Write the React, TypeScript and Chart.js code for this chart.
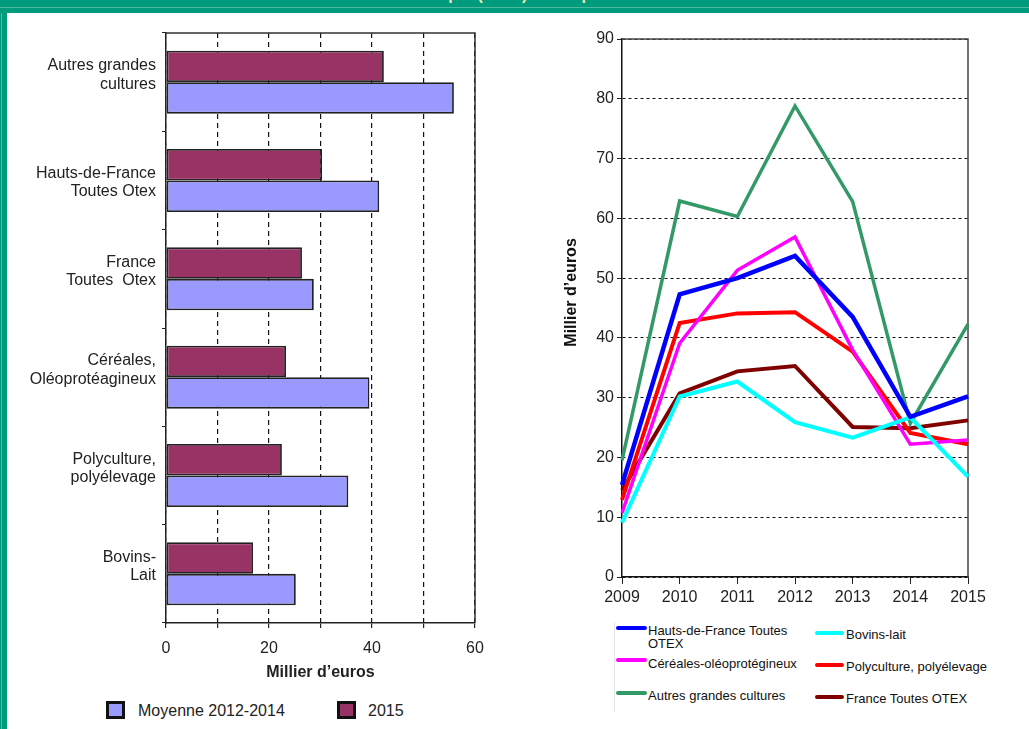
import React, { useEffect, useRef } from 'react';
import { Chart, registerables } from 'chart.js';

Chart.register(...registerables);

const FONT = '"Liberation Sans", Arial, Helvetica, sans-serif';
const GREEN = '#009B7D';
const GREEN_LIGHT = '#4FB9A0';

// ---- Left chart (horizontal bars) ----
const barCategories: string[][] = [
  ['Autres grandes', 'cultures'],
  ['', 'Hauts-de-France', 'Toutes Otex'],
  ['France', 'Toutes  Otex'],
  ['Céréales,', 'Oléoprotéagineux'],
  ['Polyculture,', 'polyélevage'],
  ['Bovins-', 'Lait'],
];
const values2015 = [42.3, 30.3, 26.4, 23.3, 22.5, 16.9];
const valuesMoyenne = [55.9, 41.4, 28.7, 39.5, 35.4, 25.2];
const barLabelledTicks = [0, 20, 40, 60];

// ---- Right chart (lines) ----
const years = ['2009', '2010', '2011', '2012', '2013', '2014', '2015'];
const hautsDeFrance = [15.4, 47.3, 50.0, 53.7, 43.5, 26.8, 30.2];
const bovinsLait = [9.1, 30.2, 32.7, 25.9, 23.3, 26.7, 16.8];
const cereales = [10.7, 39.1, 51.3, 56.9, 38.0, 22.2, 22.9];
const polyculture = [12.9, 42.5, 44.1, 44.3, 37.7, 24.1, 22.2];
const autresGrandes = [19.5, 62.9, 60.3, 78.8, 62.8, 25.7, 42.3];
const franceToutes = [14.5, 30.7, 34.4, 35.3, 25.1, 24.9, 26.2];

const framePlugin = {
  id: 'frame',
  beforeDatasetsDraw(chart: any, _args: any, opts: any) {
    const { ctx, chartArea: a } = chart;
    ctx.save();
    ctx.strokeStyle = opts.color || '#333';
    ctx.lineWidth = opts.width || 1.5;
    ctx.setLineDash([]);
    ctx.beginPath();
    ctx.moveTo(a.left, a.top);
    ctx.lineTo(a.right, a.top);
    ctx.lineTo(a.right, a.bottom);
    ctx.stroke();
    ctx.restore();
  },
};

const zeroPad = (s: any) => {
  s.paddingLeft = 0;
  s.paddingRight = 0;
  s.paddingTop = 0;
  s.paddingBottom = 0;
};

export default function App() {
  const barRef = useRef<HTMLCanvasElement>(null);
  const lineRef = useRef<HTMLCanvasElement>(null);

  useEffect(() => {
    Chart.defaults.font.family = FONT;
    const bar = new Chart(barRef.current as HTMLCanvasElement, {
      type: 'bar',
      data: {
        labels: barCategories,
        datasets: [
          {
            label: '2015',
            data: values2015,
            backgroundColor: '#993366',
            borderColor: '#222',
            borderWidth: 1.8,
            borderSkipped: false,
            categoryPercentage: 0.64,
            barPercentage: 1,
          },
          {
            label: 'Moyenne 2012-2014',
            data: valuesMoyenne,
            backgroundColor: '#9999FF',
            borderColor: '#222',
            borderWidth: 1.8,
            borderSkipped: false,
            categoryPercentage: 0.64,
            barPercentage: 1,
          },
        ],
      } as any,
      options: {
        indexAxis: 'y',
        responsive: false,
        animation: false,
        layout: { padding: { left: 0, top: 20, right: 45, bottom: 7 } },
        plugins: {
          legend: { display: false },
          tooltip: { enabled: false },
          frame: { color: '#333', width: 1.5 },
        } as any,
        scales: {
          x: {
            type: 'linear',
            min: 0,
            max: 60,
            ticks: {
              stepSize: 10,
              autoSkip: false,
              maxRotation: 0,
              callback: (v: any) => (barLabelledTicks.includes(Number(v)) ? String(v) : ''),
              color: '#222',
              font: { size: 16 },
              padding: 11,
            },
            grid: { color: '#111', lineWidth: 1.2, tickLength: 5, tickColor: '#222' },
            border: { display: true, color: '#222', width: 1.5, dash: [5, 4] },
            title: {
              display: true,
              text: 'Millier d’euros',
              color: '#222',
              font: { size: 16, weight: 'bold' },
              padding: { top: 0, bottom: 1 },
            },
            afterFit: (s: any) => {
              s.height = 60;
              zeroPad(s);
            },
          },
          y: {
            type: 'category',
            ticks: {
              color: '#222',
              font: { size: 16, lineHeight: 1.15 },
              padding: 6,
              labelOffset: -7,
              autoSkip: false,
            },
            grid: { drawOnChartArea: false, tickLength: 4, color: '#222', offset: true },
            border: { color: '#222', width: 1.5 },
            afterFit: (s: any) => {
              s.width = 159;
              zeroPad(s);
            },
          },
        },
      } as any,
      plugins: [framePlugin],
    });

    const mk = (label: string, data: number[], color: string, width: number) => ({
      label,
      data,
      borderColor: color,
      backgroundColor: color,
      borderWidth: width,
      pointRadius: 0,
      pointHoverRadius: 0,
      fill: false,
      tension: 0,
    });

    const line = new Chart(lineRef.current as HTMLCanvasElement, {
      type: 'line',
      data: {
        labels: years,
        datasets: [
          mk('Hauts-de-France Toutes OTEX', hautsDeFrance, '#0000FF', 4.5),
          mk('Bovins-lait', bovinsLait, '#00FFFF', 4),
          mk('Céréales-oléoprotégineux', cereales, '#FF00FF', 3.5),
          mk('Polyculture, polyélevage', polyculture, '#FF0000', 4),
          mk('Autres grandes cultures', autresGrandes, '#339966', 3.5),
          mk('France Toutes OTEX', franceToutes, '#800000', 4),
        ],
      },
      options: {
        responsive: false,
        animation: false,
        layout: { padding: { left: 0, top: 26, right: 61, bottom: 3 } },
        plugins: {
          legend: { display: false },
          tooltip: { enabled: false },
          frame: { color: '#444', width: 1.5 },
        } as any,
        scales: {
          x: {
            type: 'category',
            offset: false,
            ticks: { color: '#222', font: { size: 16 }, padding: 4, autoSkip: false, maxRotation: 0 },
            grid: { drawOnChartArea: false, tickLength: 7, color: '#222', offset: false },
            border: { color: '#111', width: 1.5 },
            afterFit: (s: any) => {
              s.height = 40;
              zeroPad(s);
            },
          },
          y: {
            type: 'linear',
            min: 0,
            max: 90,
            ticks: { stepSize: 10, color: '#222', font: { size: 16 }, padding: 3 },
            grid: { color: '#111', lineWidth: 1, tickLength: 5, tickColor: '#222' },
            border: { color: '#111', width: 1.5, dash: [3, 3] },
            title: {
              display: true,
              text: '\u00A0\u00A0\u00A0\u00A0\u00A0\u00A0\u00A0Millier d’euros',
              color: '#111',
              font: { size: 16, weight: 'bold' },
              padding: { top: 22, bottom: 0 },
            },
            afterFit: (s: any) => {
              s.width = 82;
              zeroPad(s);
            },
          },
        },
      } as any,
      plugins: [framePlugin],
    });

    return () => {
      bar.destroy();
      line.destroy();
    };
  }, []);

  const txt = (extra: React.CSSProperties): React.CSSProperties => ({
    position: 'absolute',
    whiteSpace: 'nowrap',
    fontFamily: FONT,
    ...extra,
  });

  const legendLine = (left: number, top: number, width: number, color: string) => (
    <div
      style={{
        position: 'absolute',
        left,
        top,
        width,
        height: 4,
        borderRadius: 2,
        background: color,
      }}
    />
  );

  return (
    <div
      style={{
        position: 'absolute',
        left: 0,
        top: 0,
        width: 1029,
        height: 729,
        overflow: 'hidden',
        background: '#fff',
        fontFamily: FONT,
      }}
    >
      {/* top band */}
      <div style={{ position: 'absolute', left: 0, top: 0, width: 1029, height: 13, background: GREEN, overflow: 'hidden' }}>
        <div style={txt({ left: 177, top: -13.5, fontSize: 16, lineHeight: '16px', fontWeight: 'bold', color: '#F3E8B5' })}>
          Niveau du résultat courant avant impôt (RCAI) des exploitations
        </div>
        <div style={{ position: 'absolute', left: 0, top: 7, width: 1029, height: 1, background: GREEN_LIGHT }} />
      </div>
      {/* left border */}
      <div style={{ position: 'absolute', left: 0, top: 13, width: 7, height: 716, background: GREEN }}>
        <div style={{ position: 'absolute', left: 1, top: 0, width: 1, height: 716, background: GREEN_LIGHT }} />
      </div>

      <canvas
        ref={barRef}
        width={513}
        height={677}
        style={{ position: 'absolute', left: 7, top: 13, width: 513, height: 677 }}
      />
      <canvas
        ref={lineRef}
        width={489}
        height={607}
        style={{ position: 'absolute', left: 540, top: 13, width: 489, height: 607 }}
      />

      {/* left legend */}
      <div style={{ position: 'absolute', left: 106, top: 701, width: 13, height: 12, border: '3px solid #111', background: '#9999FF' }} />
      <div style={txt({ left: 138, top: 702, fontSize: 16, lineHeight: '18px', color: '#222' })}>Moyenne 2012-2014</div>
      <div style={{ position: 'absolute', left: 337, top: 701, width: 13, height: 12, border: '3px solid #111', background: '#993366' }} />
      <div style={txt({ left: 368, top: 702, fontSize: 16, lineHeight: '18px', color: '#222' })}>2015</div>

      {/* right legend */}
      <div style={{ position: 'absolute', left: 614, top: 622, width: 1, height: 90, background: '#e4e4e4' }} />
      {legendLine(616, 626, 31, '#0000FF')}
      <div style={txt({ left: 648, top: 623.5, fontSize: 13, lineHeight: '13.3px', color: '#111' })}>
        Hauts-de-France Toutes
        <br />
        OTEX
      </div>
      {legendLine(616, 658, 31, '#FF00FF')}
      <div style={txt({ left: 648, top: 656.5, fontSize: 13, lineHeight: '13px', color: '#111' })}>Céréales-oléoprotégineux</div>
      {legendLine(616, 691, 31, '#339966')}
      <div style={txt({ left: 648, top: 688.5, fontSize: 13, lineHeight: '13px', color: '#111' })}>Autres grandes cultures</div>

      {legendLine(815, 631, 29, '#00FFFF')}
      <div style={txt({ left: 846, top: 627.5, fontSize: 13, lineHeight: '13px', color: '#111' })}>Bovins-lait</div>
      {legendLine(815, 663, 29, '#FF0000')}
      <div style={txt({ left: 846, top: 659.5, fontSize: 13, lineHeight: '13px', color: '#111' })}>Polyculture, polyélevage</div>
      {legendLine(815, 695, 29, '#800000')}
      <div style={txt({ left: 846, top: 691.5, fontSize: 13, lineHeight: '13px', color: '#111' })}>France Toutes OTEX</div>
    </div>
  );
}
